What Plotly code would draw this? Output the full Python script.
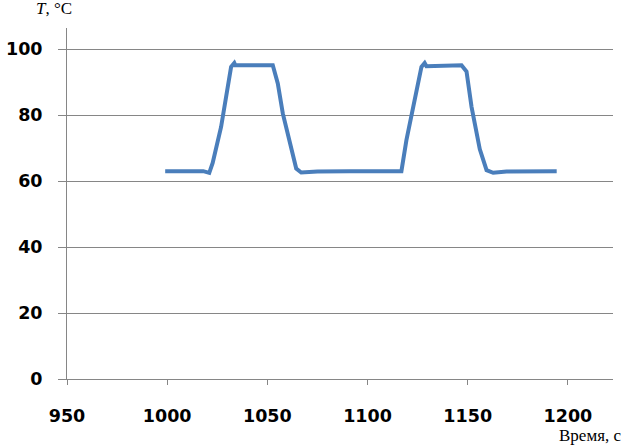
import plotly.graph_objects as go

# temperature trace (time in s, temperature in °C)
time_s = [999, 1018, 1021, 1022.7, 1026.9, 1031, 1031.9, 1033.5, 1034, 1052.7, 1055.2,
          1057.7, 1061, 1064.4, 1066.9, 1075, 1091, 1116.9, 1119.4, 1122.7, 1125.2,
          1126.9, 1128.5, 1129.4, 1146.9, 1149.4, 1151.9, 1156, 1159.4, 1162.7,
          1169.4, 1194.4]
temp_c = [63, 63, 62.5, 65.5, 76.4, 90.6, 94.6, 95.8, 95.1, 95.1, 89.6,
          80.5, 72.4, 63.8, 62.6, 62.9, 63, 63, 72.4, 82.5, 90.6,
          94.6, 95.8, 94.8, 95.1, 93.2, 82.5, 69.7, 63.3, 62.5,
          62.9, 63]

x_ticks = [950, 1000, 1050, 1100, 1150, 1200]
y_ticks = [0, 20, 40, 60, 80, 100]

grid = '#868686'
tick_font = dict(family='DejaVu Sans', size=17.5, color='black', weight='bold')

fig = go.Figure()
fig.add_trace(go.Scatter(
    x=time_s, y=temp_c,
    mode='lines',
    line=dict(color='#4A7EBB', width=4),
    showlegend=False
))

fig.update_layout(
    width=625, height=448,
    margin=dict(l=67, r=12, t=28, b=69, autoexpand=False),
    plot_bgcolor='white',
    paper_bgcolor='white',
    xaxis=dict(
        range=[950, 1222.5],
        tickvals=x_ticks,
        showgrid=False, zeroline=False,
        showline=True, linecolor=grid, linewidth=1,
        ticks='outside', ticklen=5, tickcolor=grid,
        tickfont=tick_font, ticklabelstandoff=16,
        automargin=False
    ),
    yaxis=dict(
        range=[0, 106.4],
        tickvals=y_ticks,
        showgrid=True, gridcolor=grid, gridwidth=1,
        zeroline=False,
        showline=True, linecolor=grid, linewidth=1,
        ticks='outside', ticklen=8, tickcolor=grid,
        tickfont=tick_font, ticklabelstandoff=12,
        automargin=False
    ),
    annotations=[
        dict(text='<i>T</i>, °C', xref='paper', yref='paper',
             x=(34 - 67) / 546, y=(379 - 9) / 351,
             xanchor='left', yanchor='middle', showarrow=False,
             font=dict(family='Liberation Serif', size=17, color='black')),
        dict(text='Время, с', xref='paper', yref='paper',
             x=(623 - 67) / 546, y=(379 - 435) / 351,
             xanchor='right', yanchor='middle', showarrow=False,
             font=dict(family='Liberation Serif', size=17, color='black')),
    ]
)

# drop the default page margin so the figure sits at the window's corner
fig.write_html("out.html", config={'displayModeBar': False},
               post_script="document.body.style.margin='0';")
